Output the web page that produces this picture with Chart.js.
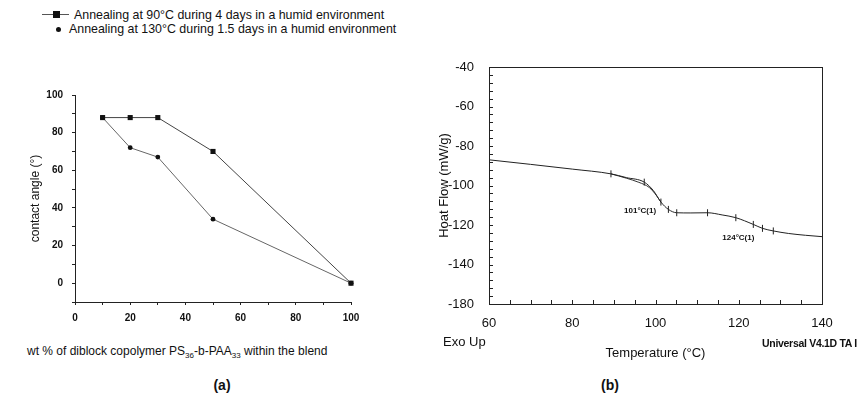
<!DOCTYPE html>
<html>
<head>
<meta charset="utf-8">
<script src="https://cdn.jsdelivr.net/npm/chart.js@4"></script>
<style>
  body { margin: 0; width: 860px; height: 400px; background: #fff; position: relative; overflow: hidden;
         font-family: "Liberation Sans", Arial, sans-serif; color: #111; }
  canvas { position: absolute; }
  .txt { position: absolute; white-space: nowrap; line-height: 1; }
  .txt sub { font-size: 8px; vertical-align: -3px; }
</style>
</head>
<body>

<div id="legend"></div>
<canvas id="chartA" width="390" height="250" style="left:0;top:80px"></canvas>
<canvas id="chartB" width="460" height="330" style="left:400px;top:40px"></canvas>

<div class="txt" style="left:27px;top:345px;font-size:12px">wt % of diblock copolymer PS<sub>36</sub>-b-PAA<sub>33</sub> within the blend</div>
<div class="txt" style="left:443px;top:335px;font-size:13px">Exo Up</div>
<div class="txt" style="right:3px;top:338px;font-size:10.5px;font-weight:bold;letter-spacing:-0.3px">Universal V4.1D TA I</div>
<div class="txt" style="left:222px;top:378px;font-size:14px;font-weight:bold;transform:translateX(-50%)">(a)</div>
<div class="txt" style="left:610px;top:378px;font-size:14px;font-weight:bold;transform:translateX(-50%)">(b)</div>

<script>
// (a) contact angle vs copolymer content
const seriesNames = [
  'Annealing at 90°C during 4 days in a humid environment',
  'Annealing at 130°C during 1.5 days in a humid environment'
];
const contentPct = [10, 20, 30, 50, 100];
const angle90C = [88, 88, 88, 70, 0];
const angle130C = [88, 72, 67, 34, 0];

// (b) DSC trace
const dscTemp = [60, 70, 80, 89.3, 93, 97.3, 99.5, 101.3, 103.1, 105.1, 108.5, 112.5, 116, 119.3, 123.5, 125.7, 128.3, 132, 136, 140];
const dscFlow = [-87, -89.3, -91.7, -94.1, -96.0, -98.3, -102.6, -108.4, -112.1, -113.8, -113.9, -113.8, -114.9, -116.3, -119.7, -121.7, -123.0, -124.3, -125.2, -125.9];
const dscMark = [0, 0, 0, 1, 0, 1, 0, 1, 1, 1, 0, 1, 0, 1, 1, 1, 1, 0, 0, 0];
const fitTemp = [89.3, 93, 96, 98.5, 100.2, 101.3];
const fitFlow = [-94.1, -96.3, -98.4, -101.0, -105.0, -108.4];
const noteText = ['101°C(1)', '124°C(1)'];
const noteTemp = [96.3, 119.9];
const noteFlow = [-112.6, -126.5];

const FONT = '"Liberation Sans", Arial, sans-serif';
const INK = '#111';

// legend for (a), kept as html above the plot
document.getElementById('legend').innerHTML = `
  <div class="txt" style="left:42px;top:14px;width:27px;height:1px;background:#555"></div>
  <div class="txt" style="left:53px;top:11px;width:7px;height:7px;background:${INK}"></div>
  <div class="txt" style="left:74px;top:9px;font-size:12.4px">${seriesNames[0]}</div>
  <div class="txt" style="left:56px;top:27px;width:5px;height:5px;border-radius:50%;background:${INK}"></div>
  <div class="txt" style="left:69px;top:23px;font-size:12.4px">${seriesNames[1]}</div>
`;

const toPts = (xs, ys) => xs.map((x, i) => ({ x: x, y: ys[i] }));

new Chart(document.getElementById('chartA'), {
  type: 'line',
  data: {
    datasets: [
      { label: seriesNames[0], data: toPts(contentPct, angle90C), borderColor: '#444', borderWidth: 1,
        pointStyle: 'rect', pointRadius: 3.6, pointBackgroundColor: INK, pointBorderWidth: 0, clip: false },
      { label: seriesNames[1], data: toPts(contentPct, angle130C), borderColor: '#666', borderWidth: 1,
        pointStyle: 'circle', pointRadius: 2.4, pointBackgroundColor: INK, pointBorderWidth: 0, clip: false }
    ]
  },
  options: {
    responsive: false,
    animation: false,
    layout: { padding: { left: 24, top: 11, right: 39, bottom: 0 } },
    plugins: { legend: { display: false }, tooltip: { enabled: false } },
    scales: {
      x: {
        type: 'linear', min: 0, max: 100,
        afterFit: s => { s.height = 28; },
        grid: { drawOnChartArea: false, tickLength: 3, color: '#222' },
        border: { color: '#222' },
        ticks: { stepSize: 10, autoSkip: false, maxRotation: 0, padding: 7, color: INK,
                 font: { family: FONT, size: 10, weight: 'bold' },
                 callback: v => (v % 20 === 0 ? v : '') }
      },
      y: {
        min: -10, max: 100,
        afterFit: s => { s.width = 51; },
        grid: { drawOnChartArea: false, tickLength: 3, color: '#222' },
        border: { color: '#222' },
        title: { display: true, text: 'contact angle (°)', color: INK, font: { family: FONT, size: 12 } },
        ticks: { stepSize: 10, autoSkip: false, padding: 9, color: INK,
                 font: { family: FONT, size: 10, weight: 'bold' },
                 callback: v => (v % 20 === 0 ? v : '') }
      }
    }
  }
});

// frame, inward ticks and the two transition labels of the DSC plot
const dscFrame = {
  id: 'dscFrame',
  afterDraw(chart) {
    const { ctx, chartArea: a, scales } = chart;
    ctx.save();
    ctx.strokeStyle = '#222';
    ctx.lineWidth = 1;
    ctx.strokeRect(a.left + 0.5, a.top + 0.5, a.right - a.left, a.bottom - a.top);
    ctx.beginPath();
    scales.y.ticks.forEach(t => {
      const y = Math.round(scales.y.getPixelForValue(t.value)) + 0.5;
      ctx.moveTo(a.left, y); ctx.lineTo(a.left + 4, y);
    });
    scales.x.ticks.forEach(t => {
      const x = Math.round(scales.x.getPixelForValue(t.value)) + 0.5;
      ctx.moveTo(x, a.bottom); ctx.lineTo(x, a.bottom - 4);
    });
    ctx.stroke();
    ctx.font = 'bold 8px ' + FONT;
    ctx.fillStyle = INK;
    ctx.textAlign = 'center';
    ctx.textBaseline = 'middle';
    noteText.forEach((s, i) => {
      ctx.fillText(s, scales.x.getPixelForValue(noteTemp[i]), scales.y.getPixelForValue(noteFlow[i]));
    });
    ctx.restore();
  }
};

new Chart(document.getElementById('chartB'), {
  type: 'line',
  data: {
    datasets: [
      { label: 'Heat flow', data: toPts(dscTemp, dscFlow), borderColor: '#222', borderWidth: 1,
        cubicInterpolationMode: 'monotone',
        pointStyle: 'line', rotation: 90, pointBorderColor: '#222', pointBorderWidth: 1,
        pointRadius: ctx => (dscMark[ctx.dataIndex] ? 3.5 : 0) },
      { label: 'Fit', data: toPts(fitTemp, fitFlow), borderColor: '#333', borderWidth: 1,
        cubicInterpolationMode: 'monotone', pointRadius: 0 }
    ]
  },
  options: {
    responsive: false,
    animation: false,
    layout: { padding: { left: 33, top: 27, right: 38, bottom: 5 } },
    plugins: { legend: { display: false }, tooltip: { enabled: false } },
    scales: {
      x: {
        type: 'linear', min: 60, max: 140,
        afterFit: s => { s.height = 61; },
        grid: { display: false },
        border: { display: false },
        title: { display: true, text: 'Temperature (°C)', color: INK, font: { family: FONT, size: 13 } },
        ticks: { stepSize: 5, autoSkip: false, maxRotation: 0, padding: 4, color: INK,
                 font: { family: FONT, size: 13 },
                 callback: v => (v % 20 === 0 ? v : '') }
      },
      y: {
        min: -160, max: -40,
        afterFit: s => { s.width = 56; },
        grid: { display: false },
        border: { display: false },
        title: { display: true, text: 'Hoat Flow (mW/g)', color: INK, font: { family: FONT, size: 13 } },
        ticks: { stepSize: 4, autoSkip: false, padding: 7, color: INK,
                 font: { family: FONT, size: 13 },
                 // the original axis prints -180 at its lowest tick
                 callback: v => (Math.round(v) % 20 === 0 ? (Math.round(v) === -160 ? '-180' : Math.round(v)) : '') }
      }
    }
  },
  plugins: [dscFrame]
});
</script>
</body>
</html>
